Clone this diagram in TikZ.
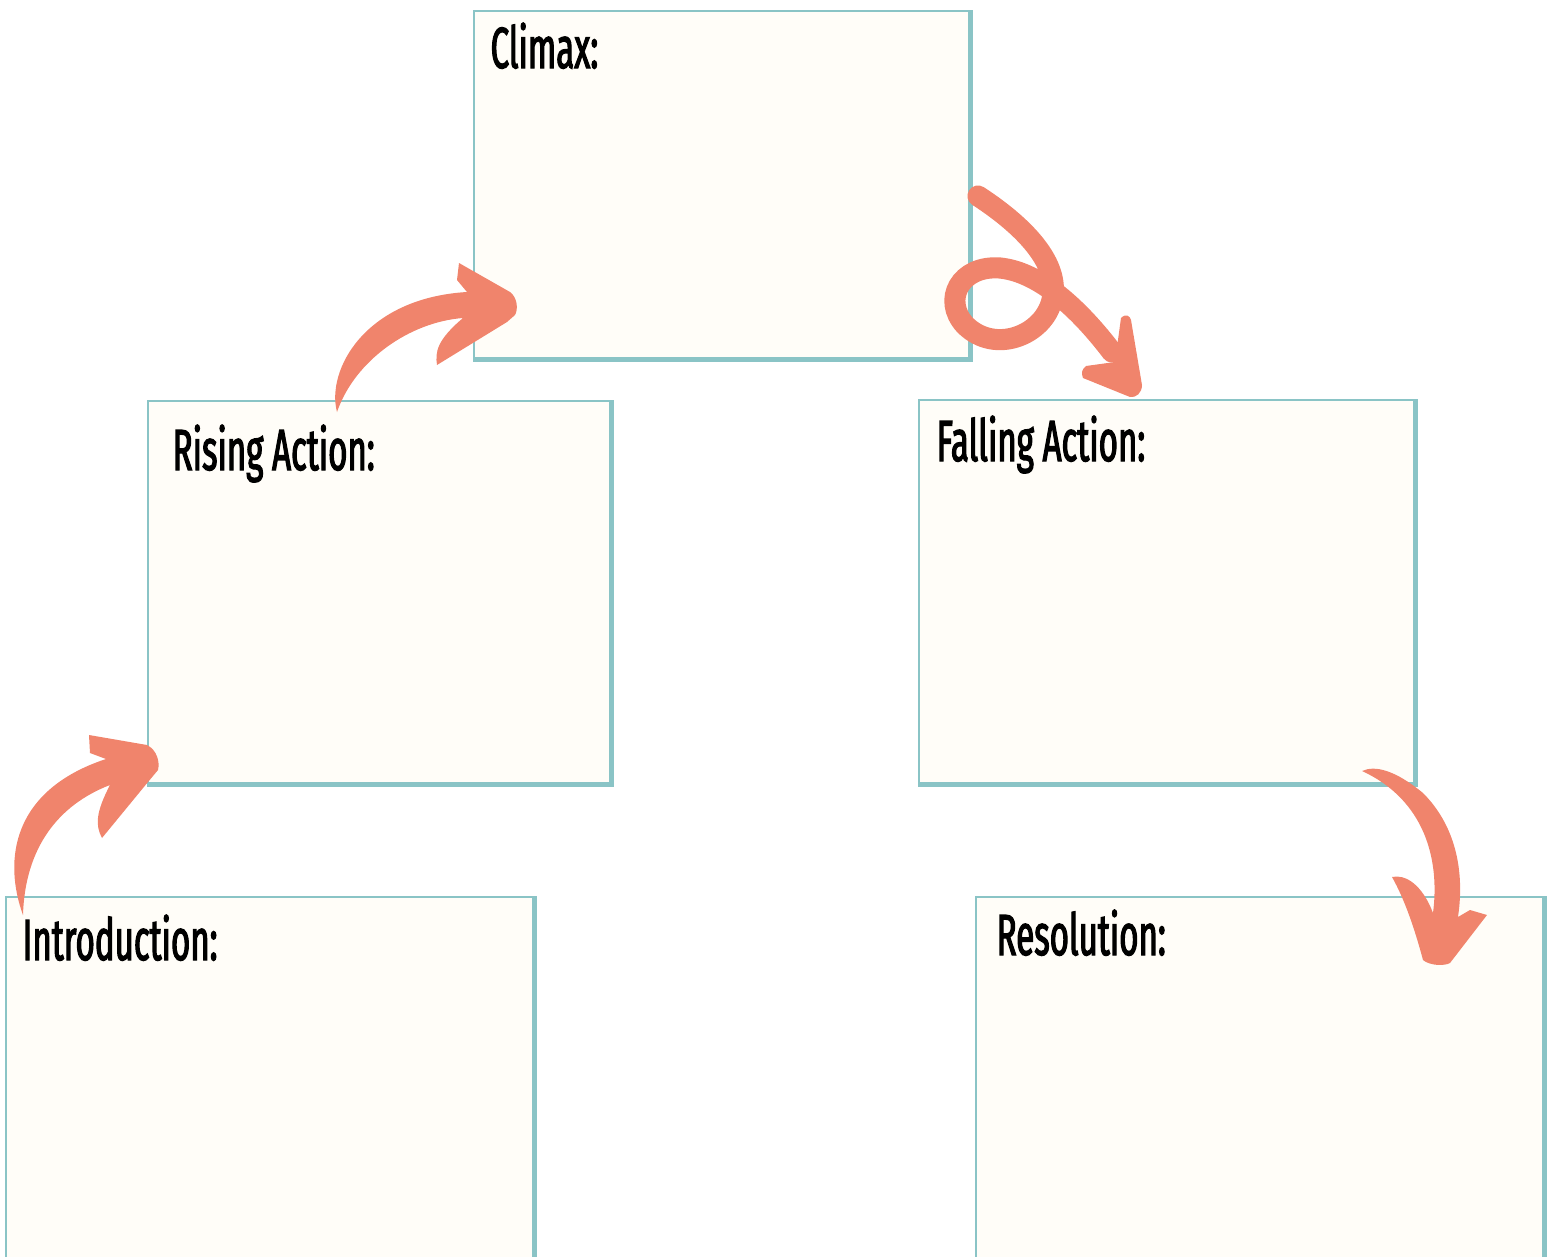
\documentclass[tikz,border=0pt]{standalone}
\usepackage{fontspec}
\setmainfont{Fira Sans}[FakeStretch=0.57, FakeBold=2]
\usetikzlibrary{positioning}
\definecolor{arrowred}{HTML}{F0846C}
\definecolor{boxteal}{HTML}{8AC4C6}
\definecolor{boxfill}{HTML}{FFFDF8}

\begin{document}
\begin{tikzpicture}[x=0.01cm, y=-0.01cm,
    storybox/.style={draw=boxteal, fill=boxfill, line width=0.7pt, anchor=north west, inner sep=0pt},
    boxshade/.style={draw=boxteal, line width=1.4pt},
    boxtitle/.style={anchor=base west, inner sep=0pt, font=\fontsize{16.5}{18}\selectfont},
    brush/.style={fill=arrowred, draw=none},
    brushline/.style={draw=arrowred, line width=6pt, line cap=round}]

            \useasboundingbox (0,0) rectangle (1553,1257);
            \clip (0,0) rectangle (1553,1257);

            % the five boxes
            \node[storybox, minimum width=4.95cm, minimum height=3.47cm] (climax) at (473,10) {};
            \draw[boxshade] (climax.north east) -- (climax.south east) -- (climax.south west);
            \node[boxtitle] (climaxtitle) at (490,68) {Climax:};

            \node[storybox, minimum width=4.62cm, minimum height=3.82cm] (rising) at (147,400) {};
            \draw[boxshade] (rising.north east) -- (rising.south east) -- (rising.south west);
            \node[boxtitle] (risingtitle) at (172,470) {Rising Action:};

            \node[storybox, minimum width=4.95cm, minimum height=3.83cm] (falling) at (918,399) {};
            \draw[boxshade] (falling.north east) -- (falling.south east) -- (falling.south west);
            \node[boxtitle] (fallingtitle) at (936,461) {Falling Action:};

            \node[storybox, minimum width=5.27cm, minimum height=3.8cm] (intro) at (5,896) {};
            \draw[boxshade] (intro.north east) -- (intro.south east);
            \node[boxtitle] (introtitle) at (22,960) {Introduction:};

            \node[storybox, minimum width=5.67cm, minimum height=3.8cm] (resolution) at (975,896) {};
            \draw[boxshade] (resolution.north east) -- (resolution.south east);
            \node[boxtitle] (resolutiontitle) at (996,955) {Resolution:};

            % introduction to rising action
            \fill[brush] (23,915) .. controls (3,860) and (12,790) .. (106,759)
                -- (90,753) -- (89,735) -- (147,745)
                .. controls (157,750) and (160,762) .. (158,770)
                -- (148,782) -- (102,838)
                .. controls (95,825) and (96,812) .. (110,785)
                .. controls (58,805) and (25,848) .. cycle;

            % rising action to climax
            \fill[brush] (337,412) .. controls (326,370) and (365,298) .. (467,292)
                -- (457,280) -- (459,263) -- (510,292)
                .. controls (518,298) and (518,310) .. (515,315)
                -- (507,322) -- (437,365)
                .. controls (435,352) and (437,340) .. (463,318)
                .. controls (410,322) and (355,360) .. cycle;

            % climax to falling action, with the loop
            \draw[brushline] (978,196) .. controls (1015,220) and (1062,260) .. (1052,300)
                .. controls (1044,335) and (995,355) .. (965,325)
                .. controls (942,300) and (960,265) .. (1000,268)
                .. controls (1040,272) and (1080,310) .. (1112,352);
            \fill[brush] (1086,366) -- (1115,362) -- (1121,318)
                .. controls (1126,313) and (1130,316) .. (1131,320)
                -- (1142,385)
                .. controls (1142,393) and (1136,398) .. (1130,397)
                -- (1083,378)
                .. controls (1081,373) and (1082,369) .. cycle;

            % falling action to resolution
            \fill[brush] (1362,771) .. controls (1375,765) and (1395,770) .. (1423,793)
                .. controls (1455,825) and (1465,870) .. (1458,917)
                -- (1470,910) -- (1487,915) -- (1450,963)
                .. controls (1445,966) and (1430,966) .. (1423,960)
                .. controls (1415,930) and (1405,900) .. (1392,877)
                .. controls (1405,874) and (1422,884) .. (1433,913)
                .. controls (1440,860) and (1425,800) .. cycle;

        \end{tikzpicture}
\end{document}
